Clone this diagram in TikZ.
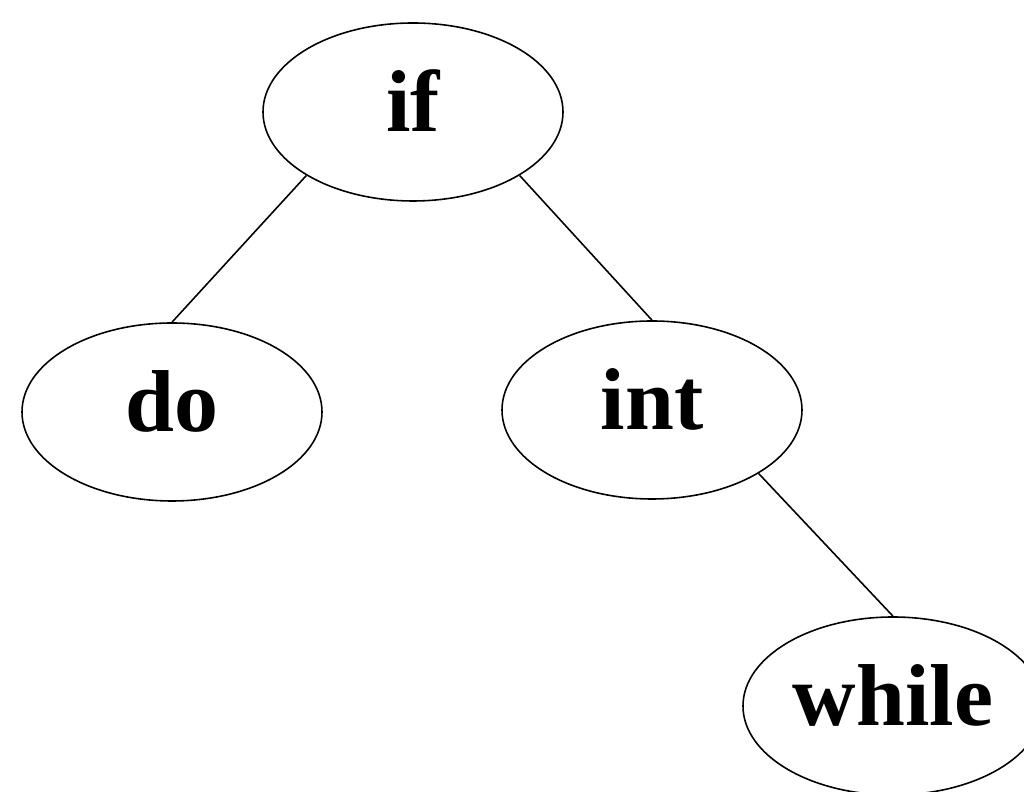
\documentclass[tikz,border=0pt]{standalone}
\usepackage{fontspec}
\setmainfont{Liberation Serif}
\usetikzlibrary{shapes.geometric}
\tikzset{
  kw/.style={ellipse, draw=black, line width=0.45pt, minimum width=3cm,
             minimum height=1.78cm, inner sep=0pt,
             text height=0.6cm, text depth=0.2cm,
             font=\fontsize{25}{30}\selectfont\bfseries},
  link/.style={line width=0.45pt, draw=black},
}
\begin{document}
\begin{tikzpicture}
  \useasboundingbox (0,0) rectangle (10.24,-7.92);
  \node[kw] (if)    at (4.13,-1.12) {if};
  \node[kw] (do)    at (1.72,-4.12) {do};
  \node[kw] (int)   at (6.52,-4.10) {int};
  \node[kw] (while) at (8.93,-7.06) {while};
  \draw[link] (if.south west) -- (do.north);
  \draw[link] (if.south east) -- (int.north);
  \draw[link] (int.south east) -- (while.north);
\end{tikzpicture}
\end{document}
